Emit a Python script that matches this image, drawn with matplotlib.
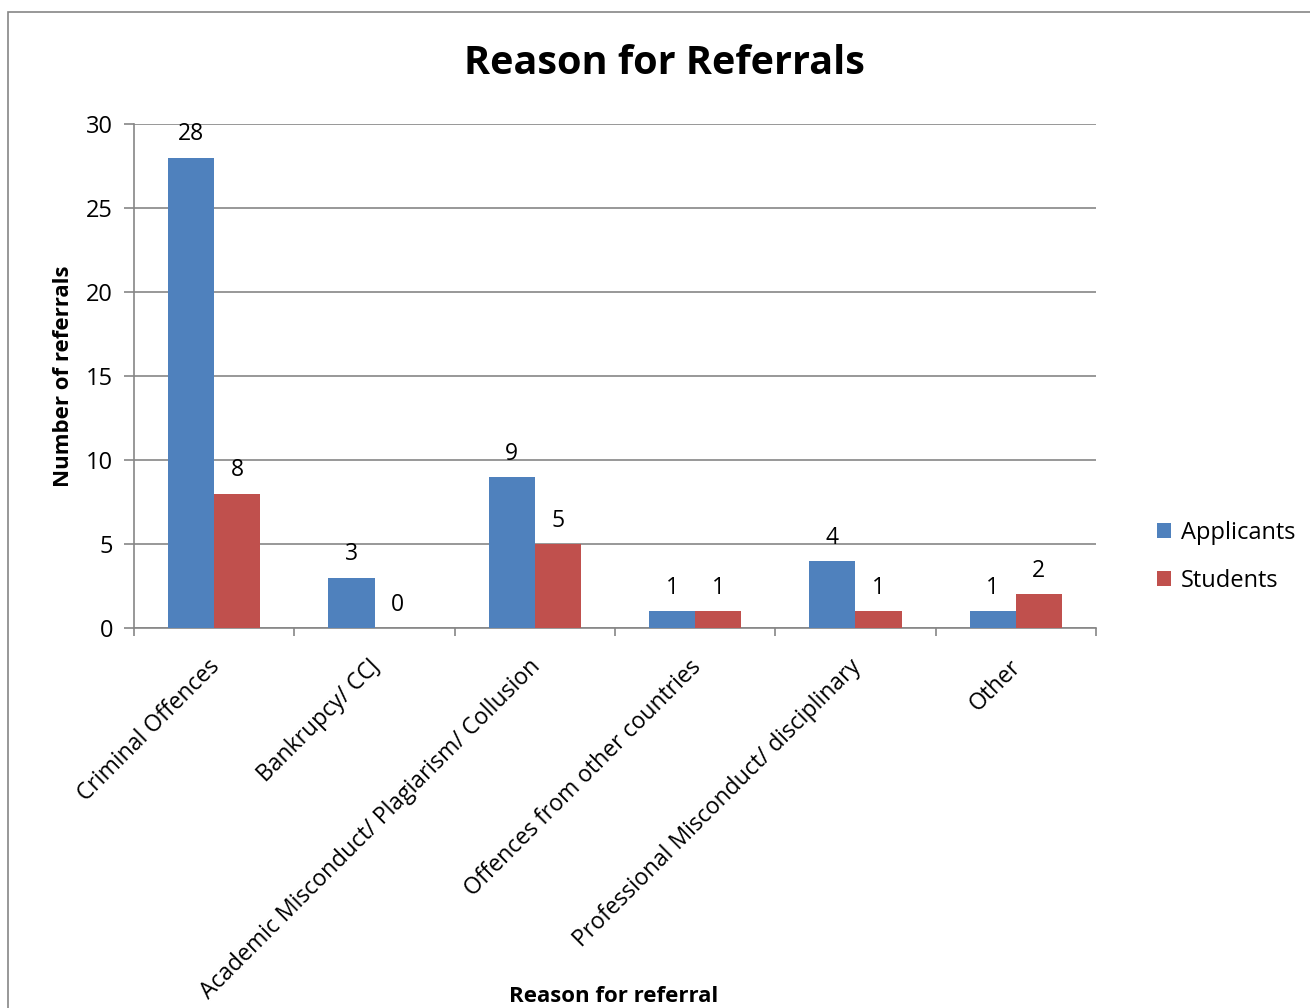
import matplotlib
matplotlib.use("Agg")
import matplotlib.pyplot as plt
import numpy as np
from matplotlib.patches import Rectangle

# --- Dados ---
categories = ["Criminal Offences", "Bankrupcy/ CCJ",
              "Academic Misconduct/ Plagiarism/ Collusion",
              "Offences from other countries",
              "Professional Misconduct/ disciplinary", "Other"]
applicants = [28, 3, 9, 1, 4, 1]
students   = [8, 0, 5, 1, 1, 2]

blue = "#4F81BD"
red  = "#C0504D"
grey = "#868686"

plt.rcParams['font.family'] = ['Open Sans', 'DejaVu Sans']

fig = plt.figure(figsize=(13.1, 10.08), dpi=100)
ax = fig.add_axes([134/1310, 1 - 628/1008, (1096 - 134)/1310, 504/1008])

# moldura exterior (cortada à direita e em baixo)
fig.patches.append(Rectangle((8/1310, -0.05), 1.2, 1 - 12/1008 + 0.05,
                             transform=fig.transFigure, fill=False,
                             edgecolor=grey, linewidth=1.2))

x = np.arange(len(categories))
w = 0.287
b1 = ax.bar(x - w/2, applicants, w, color=blue, label="Applicants", zorder=3)
b2 = ax.bar(x + w/2, students, w, color=red, label="Students", zorder=3)

for bars, vals in ((b1, applicants), (b2, students)):
    for rect, v in zip(bars, vals):
        ax.annotate(str(v), (rect.get_x() + rect.get_width()/2, v),
                    xytext=(0, 8), textcoords="offset points",
                    ha="center", va="bottom", fontsize=16.5)

ax.set_xlim(-0.5, len(categories) - 0.5)
ax.set_ylim(0, 30)
ax.set_yticks(range(0, 31, 5))
ax.yaxis.grid(True, color=grey, linewidth=1.2, zorder=0)
ax.set_axisbelow(True)

ax.set_xticks(np.arange(-0.5, len(categories), 1.0))
ax.set_xticklabels([])
ax.tick_params(axis="x", length=6, color=grey, width=1.2)
ax.tick_params(axis="y", length=7, color=grey, width=1.2, labelsize=17, pad=8)
for t, lab in zip(x, categories):
    ax.text(t - 0.04, -1.6, lab, rotation=45, ha="right", va="top",
            rotation_mode="anchor", fontsize=16.5)

for s in ("top", "right"):
    ax.spines[s].set_visible(False)
for s in ("left", "bottom"):
    ax.spines[s].set_color(grey)
    ax.spines[s].set_linewidth(1.2)

ax.set_ylabel("Number of referrals", fontsize=16, fontweight="bold", labelpad=9)
fig.text(614/1310, 1 - 997/1008, "Reason for referral", ha="center", va="center",
         fontsize=16, fontweight="bold")
fig.text(664/1310, 1 - 64/1008, "Reason for Referrals", ha="center", va="center",
         fontsize=28.5, fontweight="bold")

fig.legend(handles=[b1, b2], loc="center left",
           bbox_to_anchor=(1136/1310, 1 - 557/1008), frameon=False,
           fontsize=17, handlelength=0.6, handleheight=0.6,
           handletextpad=0.4, labelspacing=1.0)

plt.savefig("out.png", dpi=100)
